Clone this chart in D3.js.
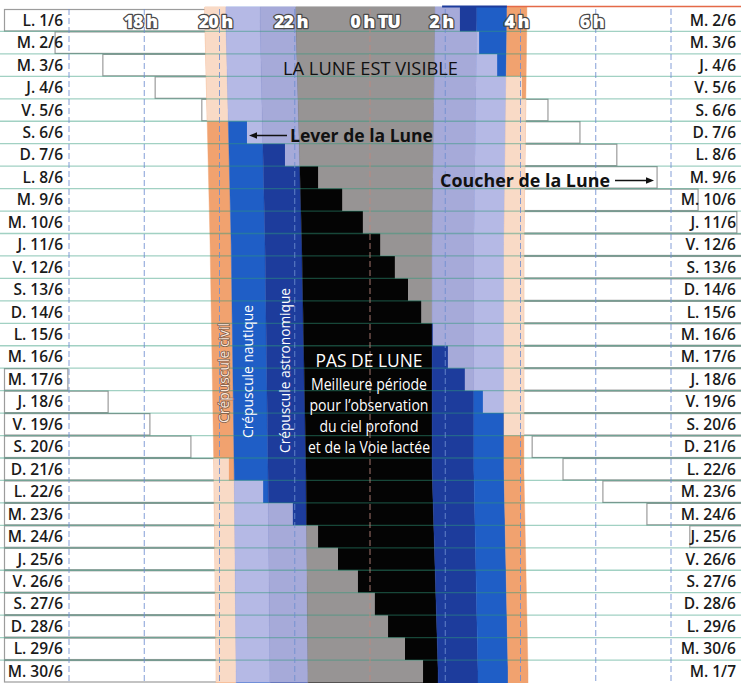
<!DOCTYPE html>
<html><head><meta charset="utf-8">
<script src="https://cdn.jsdelivr.net/npm/d3@7"></script>
<style>body{margin:0;background:#fff}svg{display:block}</style>
</head><body>
<svg id="c" width="741" height="683"></svg>
<script>
// ---------- DATA ----------
const leftLabels = ["L. 1/6","M. 2/6","M. 3/6","J. 4/6","V. 5/6","S. 6/6","D. 7/6","L. 8/6","M. 9/6","M. 10/6","J. 11/6","V. 12/6","S. 13/6","D. 14/6","L. 15/6","M. 16/6","M. 17/6","J. 18/6","V. 19/6","S. 20/6","D. 21/6","L. 22/6","M. 23/6","M. 24/6","J. 25/6","V. 26/6","S. 27/6","D. 28/6","L. 29/6","M. 30/6"];
const rightLabels = ["M. 2/6","M. 3/6","J. 4/6","V. 5/6","S. 6/6","D. 7/6","L. 8/6","M. 9/6","M. 10/6","J. 11/6","V. 12/6","S. 13/6","D. 14/6","L. 15/6","M. 16/6","M. 17/6","J. 18/6","V. 19/6","S. 20/6","D. 21/6","L. 22/6","M. 23/6","M. 24/6","J. 25/6","V. 26/6","S. 27/6","D. 28/6","L. 29/6","M. 30/6","M. 1/7"];
// moon rise / set (clock hours, TU) inside the 16h -> 8h window of each night; null = outside
const moonRise = [null,15.63,16.90,18.29,19.53,20.73,21.74,22.62,23.26,23.81,0.27,0.66,1.01,1.36,1.67,2.07,2.52,3.00,3.56,4.31,5.13,6.19,7.36,8.50,null,null,null,null,null,null];
const moonSet  = [2.39,2.90,3.38,4.04,4.73,5.58,6.56,7.63,8.72,9.75,null,null,null,null,null,null,15.97,17.04,18.15,19.24,20.25,21.16,21.95,22.62,23.15,23.68,0.13,0.48,0.93,1.41];
// sun / twilight times (clock hours, TU) read at rows of day 1, 11, 21, 30
const sunRows = [0, 10, 20, 29];
const sunset        = [19.61, 19.75, 19.85, 19.91];
const civilEnd      = [20.17, 20.31, 20.39, 20.44];
const nauticalEnd   = [21.08, 21.21, 21.29, 21.34];
const astroEnd      = [22.03, 22.19, 22.30, 22.35];
const astroStart    = [1.73, 1.65, 1.65, 1.81];
const nauticalStart = [2.84, 2.76, 2.76, 2.87];
const civilStart    = [3.64, 3.56, 3.56, 3.67];
const sunrise       = [4.17, 4.09, 4.09, 4.20];
const tickHours  = [16, 18, 20, 22, 0, 2, 4, 6, 8];
const tickLabels = ["", "18 h", "20 h", "22 h", "0 h TU", "2 h", "4 h", "6 h", ""];
const noteLines = ["Meilleure période", "pour l’observation", "du ciel profond", "et de la Voie lactée"];

// ---------- SETUP ----------
const W = 741, H = 683;
const C = {orange:"#f1a26f", peach:"#f9dac6", blue:"#1f5ec6", lav1:"#b5b9e5", navy:"#1d3c9c", lav2:"#a6aad9", black:"#040404", gray:"#979494"};
const toChart = t => t >= 12 ? t - 24 : t;
const x = d3.scaleLinear().domain([-8, 8]).range([69, 671]);
const y = d3.scaleBand().domain(d3.range(30)).range([9, 682.5]);
const rowH = y.bandwidth(), rowMid = i => y(i) + rowH / 2;
const FONT = "'Open Sans', Lato, sans-serif";
const svg = d3.select("#c");
svg.append("rect").attr("width", W).attr("height", H).attr("fill", "#fff");

function moonUp(i) {
  const r = moonRise[i] == null ? null : toChart(moonRise[i]);
  const s = moonSet[i] == null ? null : toChart(moonSet[i]);
  const S = -20, E = 20;
  if (r != null && s != null) return r < s ? [[r, s]] : [[S, s], [r, E]];
  if (r != null) return [[r, E]];
  if (s != null) return [[S, s]];
  return [];
}

// moon-in-daylight boxes
const gBox = svg.append("g");
d3.range(30).forEach(i => moonUp(i).forEach(([a, b]) => {
  const x0 = Math.max(x(a), 4.5), x1 = Math.min(x(b), 748);
  if (x1 <= x0) return;
  gBox.append("rect").attr("x", x0).attr("y", y(i) + 0.5).attr("width", x1 - x0).attr("height", rowH - 1)
    .attr("fill", "#fff").attr("stroke", "#9c9c9c").attr("stroke-width", 1.2);
}));

// clip for moonlit rows
const clip = svg.append("defs").append("clipPath").attr("id", "moon");
d3.range(30).forEach(i => moonUp(i).forEach(([a, b]) => {
  const top = i === 0 ? 0 : y(i);
  clip.append("rect").attr("x", x(a)).attr("y", top).attr("width", x(b) - x(a)).attr("height", y(i) + rowH - top);
}));

const edgePts = arr => {
  const v = arr.map(toChart);
  return [[v[0], 7], ...sunRows.map((r, k) => [v[k], rowMid(r)]), [v[v.length - 1], H]];
};
const poly = (A, B) => "M" + edgePts(A).concat(edgePts(B).reverse()).map(([t, yy]) => x(t) + "," + yy).join("L") + "Z";
const bands = [
  [sunset, civilEnd, C.orange, C.peach],
  [civilEnd, nauticalEnd, C.blue, C.lav1],
  [nauticalEnd, astroEnd, C.navy, C.lav2],
  [astroEnd, astroStart, C.black, C.gray],
  [astroStart, nauticalStart, C.navy, C.lav2],
  [nauticalStart, civilStart, C.blue, C.lav1],
  [civilStart, sunrise, C.orange, C.peach]
];
const gDark = svg.append("g"), gLight = svg.append("g").attr("clip-path", "url(#moon)");
bands.forEach(([A, B, dk, lt]) => {
  gDark.append("path").attr("d", poly(A, B)).attr("fill", dk).attr("stroke", dk).attr("stroke-width", 0.4);
  gLight.append("path").attr("d", poly(A, B)).attr("fill", lt).attr("stroke", lt).attr("stroke-width", 0.4);
});

// top edge line
svg.append("line").attr("x1", x(toChart(astroStart[0])) + 7).attr("x2", x(toChart(civilStart[0]))).attr("y1", 6.5).attr("y2", 6.5).attr("stroke", C.navy).attr("stroke-width", 2);
svg.append("line").attr("x1", x(toChart(civilStart[0]))).attr("x2", W).attr("y1", 6.5).attr("y2", 6.5).attr("stroke", "#e46a48").attr("stroke-width", 1.5);

// row separators
svg.append("g").selectAll("line").data(d3.range(1, 30)).join("line")
  .attr("x1", 0).attr("x2", W).attr("y1", d => y(d)).attr("y2", d => y(d))
  .attr("stroke", "#2e9a7a").attr("stroke-opacity", 0.45).attr("stroke-width", 1.3);

// dashed hour lines
svg.append("g").selectAll("line").data(tickHours).join("line")
  .attr("x1", d => x(toChart(d))).attr("x2", d => x(toChart(d)))
  .attr("y1", 9).attr("y2", H)
  .attr("stroke", d => d === 0 ? "#c08a80" : "#6f8dd0").attr("stroke-opacity", 0.85)
  .attr("stroke-width", 1).attr("stroke-dasharray", "6,3");

// hour labels (header row)
svg.append("g").selectAll("text").data(tickHours.map((h, k) => ({h, t: tickLabels[k]})).filter(d => d.t)).join("text")
  .attr("x", d => x(toChart(d.h)) + (d.h === 0 ? 5 : -4)).attr("y", 28)
  .attr("text-anchor", "middle").attr("font-family", FONT).attr("font-weight", 800).attr("font-size", 18)
  .attr("letter-spacing", -1.1)
  .attr("fill", "#fff").attr("stroke", "#4a4a4a").attr("stroke-width", 2.6).attr("paint-order", "stroke")
  .attr("stroke-linejoin", "round").text(d => d.t);

// row labels
const labStyle = s => s.attr("font-family", FONT).attr("font-weight", 600).attr("font-size", 15.5).attr("fill", "#1a1a1a").attr("text-anchor", "end");
svg.append("g").selectAll("text").data(leftLabels).join("text")
  .attr("x", 63).attr("y", (d, i) => rowMid(i) + 5.5).call(labStyle).text(d => d);
svg.append("g").selectAll("text").data(rightLabels).join("text")
  .attr("x", 736).attr("y", (d, i) => rowMid(i) + 5.5).call(labStyle).text(d => d);

// annotations
svg.append("text").attr("x", 370.5).attr("y", 75).attr("text-anchor", "middle").attr("font-family", FONT)
  .attr("font-size", 17.5).attr("fill", "#111").attr("textLength", 175).attr("lengthAdjust", "spacingAndGlyphs")
  .text("LA LUNE EST VISIBLE");
svg.append("text").attr("x", 290).attr("y", 141.5).attr("font-family", FONT).attr("font-weight", 700)
  .attr("font-size", 17).attr("fill", "#111").attr("textLength", 143).attr("lengthAdjust", "spacingAndGlyphs")
  .text("Lever de la Lune");
svg.append("text").attr("x", 440).attr("y", 186.5).attr("font-family", FONT).attr("font-weight", 700)
  .attr("font-size", 17).attr("fill", "#111").attr("textLength", 170).attr("lengthAdjust", "spacingAndGlyphs")
  .text("Coucher de la Lune");
function arrow(x0, x1, yy) {
  const dir = Math.sign(x1 - x0);
  svg.append("line").attr("x1", x0).attr("x2", x1 - dir * 5).attr("y1", yy).attr("y2", yy).attr("stroke", "#111").attr("stroke-width", 1.3);
  svg.append("path").attr("d", `M${x1},${yy}L${x1 - dir * 8},${yy - 3.2}L${x1 - dir * 8},${yy + 3.2}Z`).attr("fill", "#111");
}
arrow(287, 249, 135.5);
arrow(615, 654, 180.5);

svg.append("text").attr("x", 369).attr("y", 366.5).attr("text-anchor", "middle").attr("font-family", FONT)
  .attr("font-size", 19).attr("fill", "#fff").attr("textLength", 107).attr("lengthAdjust", "spacingAndGlyphs").text("PAS DE LUNE");
const noteLen = [116, 119, 99, 122];
svg.append("g").selectAll("text").data(noteLines).join("text")
  .attr("x", 369).attr("y", (d, k) => 389.5 + k * 21).attr("text-anchor", "middle").attr("font-family", FONT)
  .attr("font-size", 15.5).attr("fill", "#fff").attr("textLength", (d, k) => noteLen[k]).attr("lengthAdjust", "spacingAndGlyphs")
  .text(d => d);

function vtext(t, cx, cy, len, fill, stroke) {
  const el = svg.append("text").attr("transform", `translate(${cx},${cy}) rotate(-90)`)
    .attr("text-anchor", "middle").attr("dominant-baseline", "central").attr("font-family", FONT)
    .attr("font-size", 14).attr("fill", fill).attr("textLength", len).attr("lengthAdjust", "spacingAndGlyphs").text(t);
  if (stroke) el.attr("stroke", stroke).attr("stroke-width", 1.6).attr("paint-order", "stroke").attr("stroke-linejoin", "round");
}
vtext("Crépuscule civil", 223.5, 373, 100, "#fde9dc", "#7a5a4a");
vtext("Crépuscule nautique", 247.5, 371.5, 133, "#fff");
vtext("Crépuscule astronomique", 284, 370.5, 165, "#fff");
</script>
</body></html>
